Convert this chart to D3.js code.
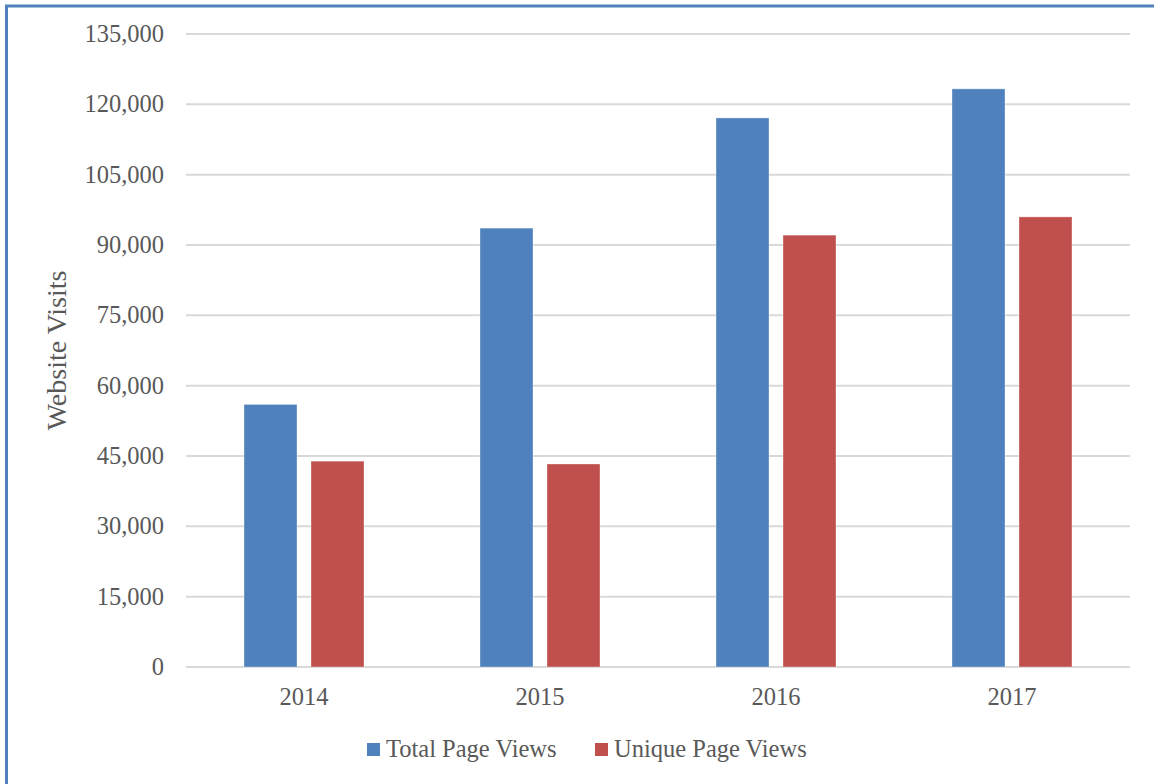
<!DOCTYPE html>
<html>
<head>
<meta charset="utf-8">
<script src="https://cdn.jsdelivr.net/npm/d3@7"></script>
<style>
  body { margin: 0; background: #fff; }
  text { font-family: "Liberation Serif", "DejaVu Serif", serif; fill: #595959; }
</style>
</head>
<body>
<script>
// data
var years = ["2014", "2015", "2016", "2017"];
var seriesNames = ["Total Page Views", "Unique Page Views"];
var totalViews = [56000, 93600, 117100, 123300];
var uniqueViews = [43900, 43300, 92100, 96000];
var yTicks = [0, 15000, 30000, 45000, 60000, 75000, 90000, 105000, 120000, 135000];
var colors = ["#4F81BD", "#C0504D"];

var W = 1154, H = 784;
var svg = d3.select("body").append("svg")
  .attr("width", W)
  .attr("height", H);

// frame (only top and left edges show in the picture)
svg.append("rect")
  .attr("x", 6.5).attr("y", 6)
  .attr("width", W + 20).attr("height", H + 20)
  .attr("fill", "none")
  .attr("stroke", "#4F81BD")
  .attr("stroke-width", 3);

var plotLeft = 186, plotRight = 1130, plotTop = 34, plotBottom = 667;

var x0 = d3.scaleBand().domain(years).range([plotLeft, plotRight]);
var x1 = d3.scaleBand().domain(seriesNames)
  .range([0, x0.bandwidth()])
  .paddingInner(0.209)
  .paddingOuter(0.866);
var y = d3.scaleLinear().domain([0, 135000]).range([plotBottom, plotTop]);

// gridlines
svg.append("g").selectAll("line")
  .data(yTicks)
  .enter().append("line")
  .attr("x1", plotLeft).attr("x2", plotRight)
  .attr("y1", function(d) { return y(d); })
  .attr("y2", function(d) { return y(d); })
  .attr("stroke", "#D9D9D9")
  .attr("stroke-width", 2);

// y tick labels
svg.append("g").selectAll("text")
  .data(yTicks)
  .enter().append("text")
  .attr("x", 164)
  .attr("y", function(d) { return y(d); })
  .attr("dy", "0.32em")
  .attr("text-anchor", "end")
  .attr("font-size", "24.5px")
  .text(function(d) { return d3.format(",")(d); });

// y axis title
svg.append("text")
  .attr("transform", "translate(66," + ((plotTop + plotBottom) / 2) + ") rotate(-90)")
  .attr("text-anchor", "middle")
  .attr("font-size", "28px")
  .text("Website Visits");

// bars
var rows = years.map(function(yr, i) {
  return {year: yr, values: [totalViews[i], uniqueViews[i]]};
});

var groups = svg.append("g").selectAll("g")
  .data(rows)
  .enter().append("g")
  .attr("transform", function(d) { return "translate(" + x0(d.year) + ",0)"; });

groups.selectAll("rect")
  .data(function(d) {
    return d.values.map(function(v, j) { return {name: seriesNames[j], value: v, c: colors[j]}; });
  })
  .enter().append("rect")
  .attr("x", function(d) { return x1(d.name); })
  .attr("y", function(d) { return y(d.value); })
  .attr("width", x1.bandwidth())
  .attr("height", function(d) { return plotBottom - y(d.value); })
  .attr("fill", function(d) { return d.c; })
  .attr("stroke", "rgba(255,255,255,0.35)")
  .attr("stroke-width", 1);

// x labels
svg.append("g").selectAll("text")
  .data(years)
  .enter().append("text")
  .attr("x", function(d) { return x0(d) + x0.bandwidth() / 2; })
  .attr("y", 705)
  .attr("text-anchor", "middle")
  .attr("font-size", "24.5px")
  .text(function(d) { return d; });

// legend
var legendX = [367, 595];
var legend = svg.append("g").selectAll("g")
  .data(seriesNames)
  .enter().append("g")
  .attr("transform", function(d, i) { return "translate(" + legendX[i] + ",743)"; });
legend.append("rect")
  .attr("width", 13).attr("height", 13)
  .attr("fill", function(d, i) { return colors[i]; });
legend.append("text")
  .attr("x", 19).attr("y", 14)
  .attr("font-size", "24.5px")
  .text(function(d) { return d; });
</script>
</body>
</html>
